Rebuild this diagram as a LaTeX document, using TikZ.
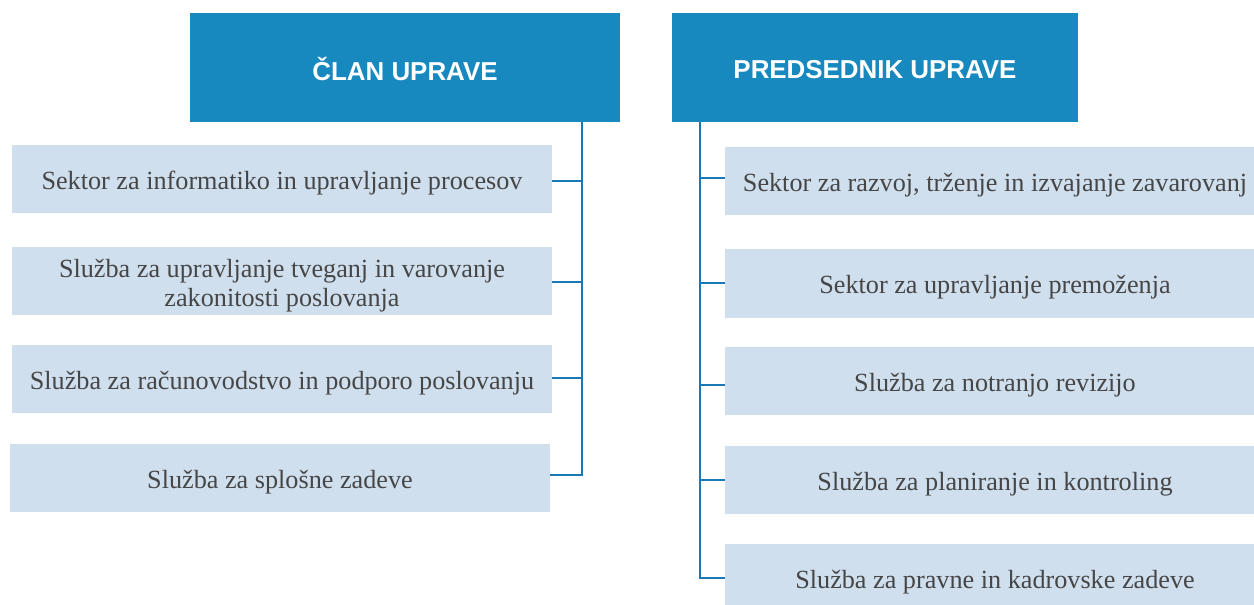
\documentclass[tikz,border=0pt]{standalone}
\usepackage{fontspec}
\setmainfont{Liberation Serif}
\newfontfamily\headfont{Liberation Sans}
\definecolor{headblue}{HTML}{1789BF}
\definecolor{boxblue}{HTML}{CFDFEE}
\definecolor{linkblue}{HTML}{1A78B6}
\definecolor{txtgray}{HTML}{464646}
\newcommand{\lowtxt}[2][-4bp]{\raisebox{#1}[\height][\depth]{#2}}
\begin{document}
\begin{tikzpicture}[x=1bp,y=-1bp,
  headbox/.style={fill=headblue, text=white, inner sep=0pt, minimum height=109bp,
     font=\headfont\bfseries\fontsize{26}{30}\selectfont},
  unitbox/.style={fill=boxblue, text=txtgray, inner sep=0pt, minimum width=540bp, minimum height=68bp,
     align=center, font=\fontsize{26.3}{30}\selectfont},
  link/.style={draw=linkblue, line width=1.8bp}]
\useasboundingbox (0,0) rectangle (1254,605);
\clip (0,0) rectangle (1254,605);
% headers
\node[headbox, minimum width=430bp] (h1) at (405,67.5) {\lowtxt[-2bp]{ČLAN UPRAVE}};
\node[headbox, minimum width=406bp] (h2) at (875,67.5) {\lowtxt[-2bp]{PREDSEDNIK UPRAVE}};
% left units
\node[unitbox] (l1) at (282,179) {\lowtxt{Sektor za informatiko in upravljanje procesov}};
\node[unitbox] (l2) at (282,281) {\lowtxt[-5bp]{\begin{tabular}{@{}c@{}}Služba za upravljanje tveganj in varovanje\\zakonitosti poslovanja\end{tabular}}};
\node[unitbox] (l3) at (282,379) {\lowtxt{Služba za računovodstvo in podporo poslovanju}};
\node[unitbox] (l4) at (280,478) {\lowtxt{Služba za splošne zadeve}};
% right units
\node[unitbox] (r1) at (995,181.5) {\lowtxt{Sektor za razvoj, trženje in izvajanje zavarovanj}};
\node[unitbox] (r2) at (995,283.5) {\lowtxt{Sektor za upravljanje premoženja}};
\node[unitbox] (r3) at (995,381) {\lowtxt{Služba za notranjo revizijo}};
\node[unitbox] (r4) at (995,480) {\lowtxt{Služba za planiranje in kontroling}};
\node[unitbox] (r5) at (995,578) {\lowtxt{Služba za pravne in kadrovske zadeve}};
% left connectors
\coordinate (lt) at (582,122);
\draw[link] (lt) -- (582,475) -- (l4.east |- 0,475);
\draw[link] (l1.east |- 0,181) -- (582,181);
\draw[link] (l2.east |- 0,282) -- (582,282);
\draw[link] (l3.east |- 0,378) -- (582,378);
% right connectors
\coordinate (rt) at (700,122);
\draw[link] (rt) -- (700,578) -- (r5.west |- 0,578);
\draw[link] (700,178) -- (r1.west |- 0,178);
\draw[link] (700,283) -- (r2.west |- 0,283);
\draw[link] (700,385) -- (r3.west |- 0,385);
\draw[link] (700,480) -- (r4.west |- 0,480);
\end{tikzpicture}
\end{document}
